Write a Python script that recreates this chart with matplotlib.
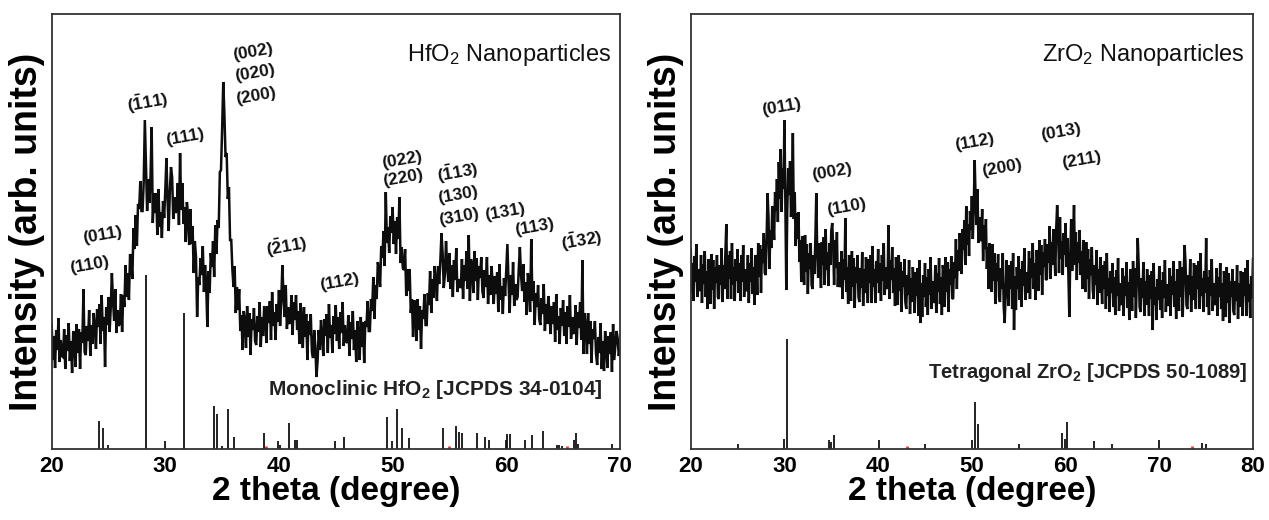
import matplotlib.pyplot as plt
import numpy as np

plt.rcParams['font.family'] = ['Liberation Sans', 'DejaVu Sans']
plt.rcParams['mathtext.default'] = 'regular'

# HfO2 scan, 20-70 deg, 0.1 deg step (one row per degree)
hfo2_counts = [
    125, 89, 113, 81, 119, 99, 131, 87, 109, 93,
    92, 120, 80, 114, 98, 126, 88, 108, 76, 118,
    108, 82, 125, 96, 120, 80, 117, 106, 160, 97,
    94, 123, 108, 139, 93, 124, 105, 136, 121, 100,
    140, 122, 145, 105, 154, 118, 132, 82, 142, 124,
    152, 117, 141, 176, 148, 128, 160, 116, 139, 123,
    126, 155, 117, 154, 142, 184, 152, 176, 149, 195,
    188, 170, 221, 200, 234, 203, 245, 240, 268, 238,
    238, 267, 329, 283, 238, 270, 246, 272, 322, 226,
    256, 236, 256, 214, 260, 222, 237, 211, 248, 231,
    259, 291, 249, 218, 258, 282, 272, 230, 252, 236,
    239, 266, 224, 296, 239, 266, 225, 242, 207, 247,
    235, 204, 240, 205, 223, 176, 208, 192, 132, 172,
    164, 191, 174, 203, 157, 184, 164, 122, 178, 156,
    196, 182, 208, 172, 224, 195, 229, 221, 277, 279,
    320, 367, 335, 292, 296, 250, 262, 208, 210, 180,
    162, 183, 136, 162, 139, 160, 118, 134, 99, 138,
    128, 101, 143, 112, 136, 94, 130, 119, 141, 108,
    104, 133, 117, 147, 102, 132, 113, 143, 128, 106,
    143, 126, 148, 109, 157, 123, 137, 109, 145, 127,
    159, 123, 147, 184, 153, 132, 164, 120, 142, 126,
    126, 154, 114, 147, 129, 154, 119, 138, 105, 146,
    128, 101, 142, 112, 135, 89, 128, 114, 135, 97,
    91, 119, 103, 72, 88, 119, 99, 129, 114, 93,
    130, 113, 135, 96, 145, 111, 124, 96, 133, 115,
    144, 108, 132, 100, 137, 116, 147, 103, 124, 108,
    106, 134, 93, 127, 110, 138, 99, 119, 87, 128,
    115, 89, 132, 102, 127, 86, 128, 122, 148, 118,
    118, 150, 138, 172, 130, 164, 150, 187, 178, 162,
    203, 191, 218, 183, 257, 206, 222, 196, 233, 216,
    242, 205, 228, 195, 232, 210, 252, 186, 202, 181,
    179, 200, 153, 180, 158, 180, 136, 150, 112, 149,
    135, 108, 150, 119, 143, 100, 139, 130, 155, 124,
    124, 156, 144, 178, 136, 170, 151, 183, 168, 148,
    183, 165, 188, 216, 196, 161, 175, 208, 184, 167,
    196, 160, 184, 152, 189, 169, 201, 157, 170, 162,
    162, 190, 150, 184, 168, 198, 160, 214, 148, 190,
    182, 156, 198, 168, 191, 149, 183, 171, 192, 158,
    151, 179, 162, 192, 145, 174, 154, 183, 167, 145,
    173, 155, 177, 137, 185, 149, 163, 135, 171, 153,
    179, 205, 167, 136, 174, 154, 187, 143, 165, 149,
    152, 180, 202, 174, 158, 185, 147, 167, 134, 176,
    165, 137, 210, 148, 168, 124, 156, 142, 164, 130,
    124, 151, 135, 165, 118, 145, 125, 153, 137, 115,
    143, 125, 147, 107, 155, 119, 133, 105, 141, 123,
    149, 113, 137, 105, 143, 122, 154, 110, 132, 116,
    116, 144, 104, 137, 121, 147, 109, 189, 95, 136,
    122, 95, 136, 105, 128, 86, 120, 110, 128, 95,
    84, 112, 96, 126, 80, 108, 78, 118, 102, 81,
    113, 95, 117, 77, 125, 89, 103, 118, 111, 93,
    100,
]

# ZrO2 scan, 20-80 deg, 0.1 deg step
zro2_counts = [
    200, 156, 186, 148, 193, 167, 205, 152, 180, 158,
    160, 194, 146, 185, 165, 198, 152, 178, 140, 190,
    177, 145, 195, 159, 189, 140, 182, 166, 194, 152,
    150, 184, 164, 201, 147, 184, 160, 196, 225, 150,
    194, 170, 198, 150, 206, 164, 182, 148, 190, 168,
    200, 156, 186, 148, 194, 167, 204, 152, 180, 158,
    160, 194, 146, 186, 167, 201, 155, 182, 144, 194,
    184, 154, 206, 172, 204, 156, 200, 186, 216, 176,
    174, 211, 256, 232, 180, 219, 201, 243, 229, 209,
    257, 238, 270, 227, 287, 250, 300, 237, 281, 260,
    329, 248, 159, 237, 281, 254, 288, 232, 256, 316,
    230, 257, 203, 236, 210, 237, 187, 209, 167, 213,
    197, 164, 214, 177, 205, 155, 196, 180, 206, 164,
    160, 194, 175, 210, 256, 194, 171, 206, 187, 161,
    207, 184, 212, 164, 220, 179, 197, 163, 206, 184,
    218, 226, 203, 164, 209, 181, 217, 162, 187, 162,
    164, 198, 150, 190, 169, 231, 157, 182, 145, 194,
    180, 148, 198, 162, 191, 141, 182, 166, 194, 152,
    147, 181, 161, 197, 143, 180, 156, 192, 172, 146,
    190, 166, 194, 146, 203, 162, 180, 146, 188, 166,
    200, 156, 186, 148, 194, 168, 206, 154, 182, 160,
    164, 224, 150, 189, 169, 202, 156, 181, 143, 192,
    177, 144, 194, 158, 187, 137, 178, 162, 190, 147,
    140, 174, 154, 189, 135, 171, 147, 182, 162, 136,
    177, 153, 181, 133, 189, 126, 166, 132, 174, 152,
    186, 142, 172, 134, 180, 154, 192, 140, 168, 146,
    150, 184, 136, 176, 157, 191, 145, 172, 134, 184,
    174, 142, 192, 157, 187, 137, 180, 164, 193, 151,
    150, 187, 171, 210, 160, 199, 178, 216, 199, 175,
    220, 199, 229, 184, 243, 204, 225, 193, 238, 219,
    253, 210, 241, 289, 250, 224, 260, 206, 232, 208,
    210, 240, 188, 224, 200, 230, 180, 202, 160, 206,
    190, 157, 205, 168, 196, 145, 186, 168, 195, 152,
    147, 181, 160, 196, 142, 126, 154, 189, 169, 143,
    184, 160, 188, 140, 196, 119, 173, 139, 182, 160,
    193, 149, 180, 142, 188, 163, 201, 149, 177, 156,
    164, 198, 150, 191, 171, 206, 160, 186, 149, 199,
    190, 158, 209, 174, 204, 154, 197, 182, 210, 169,
    170, 205, 186, 223, 170, 207, 184, 220, 201, 173,
    220, 244, 224, 176, 232, 190, 208, 174, 216, 194,
    226, 182, 211, 174, 132, 193, 230, 178, 206, 244,
    184, 217, 169, 207, 186, 219, 174, 198, 160, 209,
    190, 157, 207, 170, 200, 150, 190, 174, 202, 159,
    150, 184, 164, 199, 144, 180, 156, 192, 172, 145,
    184, 160, 188, 140, 196, 153, 171, 137, 178, 156,
    186, 142, 172, 134, 179, 153, 191, 138, 166, 144,
    147, 181, 133, 173, 153, 187, 141, 167, 129, 180,
    170, 138, 188, 152, 181, 131, 172, 211, 185, 142,
    137, 171, 151, 187, 133, 168, 144, 180, 160, 133,
    174, 150, 178, 119, 186, 144, 162, 129, 170, 149,
    183, 139, 169, 131, 177, 151, 189, 137, 165, 143,
    147, 181, 133, 173, 154, 188, 142, 168, 130, 180,
    170, 138, 188, 152, 182, 132, 174, 204, 186, 144,
    140, 174, 154, 190, 137, 173, 149, 186, 166, 140,
    184, 160, 188, 140, 196, 153, 171, 137, 178, 156,
    211, 142, 172, 134, 179, 153, 190, 138, 166, 144,
    147, 181, 133, 172, 152, 186, 140, 166, 128, 178,
    164, 132, 182, 146, 176, 126, 168, 152, 180, 138,
    134, 168, 148, 184, 130, 166, 142, 178, 158, 133,
    177, 153, 181, 133, 189, 147, 165, 131, 173, 151,
    190,
]

# JCPDS reference lines
hfo2_ref_pos = [24.16, 24.55, 24.98, 28.30, 29.97, 31.61, 34.31, 34.52, 34.99, 35.48,
                36.04, 38.71, 39.94, 40.09, 40.91, 41.40, 41.58, 44.95, 45.75, 49.50,
                49.93, 50.40, 50.80, 51.45, 54.44, 55.60, 55.82, 56.14, 57.46, 58.14,
                58.46, 59.95, 60.10, 60.37, 61.69, 62.30, 63.24, 64.47, 64.65, 64.94,
                65.94, 66.11, 66.30, 69.34]
hfo2_ref_int = [28, 21, 4, 174, 8, 136, 43, 35, 3, 40,
                12, 16, 8, 4, 26, 9, 9, 8, 12, 32,
                8, 40, 21, 11, 21, 23, 17, 16, 16, 12,
                9, 9, 15, 15, 9, 14, 18, 4, 4, 3,
                9, 16, 5, 5]
hfo2_red = [38.9, 54.94, 65.35]

zro2_ref_pos = [25.0, 30.0, 30.28, 34.77, 34.95, 35.27, 40.07, 45.05, 50.04, 50.32,
                50.66, 55.05, 59.60, 59.99, 60.20, 63.0, 65.0, 70.02, 74.57, 75.03]
zro2_ref_int = [5, 10, 110, 9, 7, 14, 9, 5, 9, 47,
                25, 5, 16, 10, 27, 8, 5, 9, 6, 5]
zro2_red = [43.13, 73.47]

# peak labels: text, 2theta, height
hfo2_peaks = [
    ("(002)", 37.71, 397), ("(020)", 37.89, 376), ("(200)", 37.97, 353),
    ("($\\bar{1}$11)", 28.47, 347), ("(111)", 31.73, 312),
    ("(011)", 24.43, 214), ("(110)", 23.37, 184), ("($\\bar{2}$11)", 40.70, 203),
    ("(112)", 45.36, 167), ("(022)", 50.82, 289), ("(220)", 50.91, 271),
    ("($\\bar{1}$13)", 55.75, 277), ("(130)", 55.75, 254), ("(310)", 55.85, 232),
    ("(131)", 59.88, 237), ("(113)", 62.52, 222), ("($\\bar{1}$32)", 66.66, 209),
]
zro2_peaks = [
    ("(011)", 29.63, 342), ("(002)", 35.08, 277), ("(110)", 36.57, 242),
    ("(112)", 50.23, 307), ("(200)", 53.22, 281), ("(013)", 59.51, 317),
    ("(211)", 61.65, 289),
]


def draw_panel(ax, start, counts, ref_pos, ref_int, red_pos, peaks, xmax,
               title, ref_label, ref_xy, ref_size):
    theta = np.linspace(start, xmax, len(counts))
    ax.plot(theta, counts, color='#0d0d0d', lw=1.8, solid_joinstyle='miter')
    ax.vlines(ref_pos, 0, ref_int, color='#111111', lw=1.3)
    ax.vlines(red_pos, 0, 3, color='#e8392a', lw=2)

    for txt, x, y in peaks:
        ax.text(x, y, txt, rotation=10, ha='center', va='center',
                fontsize=12.5, fontweight='bold', color='#111111')

    ax.text(0.985, 0.893, title, transform=ax.transAxes, ha='right',
            va='baseline', fontsize=17, color='#111111')
    ax.text(ref_xy[0], ref_xy[1], ref_label, transform=ax.transAxes,
            ha='right', va='baseline', fontsize=ref_size, fontweight='bold',
            color='#222222')

    ax.set_xlim(20, xmax)
    ax.set_ylim(0, 435)
    ax.set_xticks(range(20, xmax + 1, 10))
    ax.set_yticks([])
    ax.tick_params(axis='x', length=0, pad=5, labelsize=16)
    for lab in ax.get_xticklabels():
        lab.set_fontweight('bold')
    for sp in ax.spines.values():
        sp.set_linewidth(1.3)
        sp.set_color('#333333')

    ax.set_xlabel('2 theta (degree)', fontsize=24, fontweight='bold')
    ax.xaxis.set_label_coords(0.5, -0.062)
    ax.set_ylabel('Intensity (arb. units)', fontsize=27, fontweight='bold')
    ax.yaxis.set_label_coords(-0.012, 0.5)


fig = plt.figure(figsize=(12.69, 5.2), dpi=100)
ax1 = fig.add_axes([0.0407, 0.1365, 0.4478, 0.8365])
ax2 = fig.add_axes([0.5443, 0.1365, 0.4431, 0.8365])

draw_panel(ax1, 20, hfo2_counts, hfo2_ref_pos, hfo2_ref_int, hfo2_red, hfo2_peaks, 70,
           'HfO$_2$ Nanoparticles', 'Monoclinic HfO$_2$ [JCPDS 34-0104]',
           (0.970, 0.124), 15)
draw_panel(ax2, 20, zro2_counts, zro2_ref_pos, zro2_ref_int, zro2_red, zro2_peaks, 80,
           'ZrO$_2$ Nanoparticles', 'Tetragonal ZrO$_2$ [JCPDS 50-1089]',
           (0.989, 0.163), 14.5)

fig.savefig('out.png', dpi=100)
